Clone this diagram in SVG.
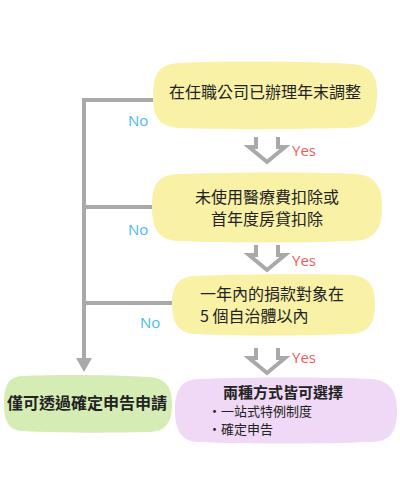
<svg xmlns="http://www.w3.org/2000/svg" width="400" height="500" viewBox="0 0 400 500">
<style>
.t{font-family:"Noto Sans CJK TC","Noto Sans CJK JP",sans-serif;fill:#222;}
.yes{font-family:"Open Sans","Noto Sans",sans-serif;font-size:15px;fill:#f25c5c;}
.no{font-family:"Open Sans","Noto Sans",sans-serif;font-size:15px;fill:#4ab8f5;}
.ln{stroke:#a9a9a9;stroke-width:4;fill:none;}
.chev{stroke:#a9a9a9;stroke-width:4;fill:none;stroke-linejoin:miter;}
</style>
<rect width="400" height="500" fill="#fff"/>
<g id="connectors">
<path class="ln" d="M153,100 H84 V360"/>
<path class="ln" d="M152,207 H84"/>
<path class="ln" d="M172,303 H84"/>
<polygon points="76,358 92,358 84,372" fill="#a9a9a9"/>
<path class="chev" d="M256,137 V147 H249 L267,162 L285,147 H278 V137"/>
<path class="chev" d="M256,245 V255 H249 L267,270 L285,255 H278 V245"/>
<path class="chev" d="M256,348 V358 H249 L267,373 L285,358 H278 V348"/>
<text class="yes" x="292" y="156">Yes</text>
<text class="yes" x="292" y="266">Yes</text>
<text class="yes" x="292" y="363">Yes</text>
<text class="no" x="128" y="126">No</text>
<text class="no" x="128" y="235">No</text>
<text class="no" x="140" y="328">No</text>
</g>
<g id="n1">
<path d="M180,63 C240,60 320,62 352,64 C374,66 378,80 377,96 C376,116 372,128 345,128 C300,129 230,130 180,128 C160,127 153,118 153,96 C153,72 160,64 180,63 Z" fill="#f8f1a6"/>
<text class="t" x="265" y="98" font-size="16" text-anchor="middle">在任職公司已辦理年末調整</text>
</g>
<g id="n2">
<path d="M178,174 C240,172 320,172 356,174 C378,176 382,190 382,207 C382,228 376,241 350,241 C300,243 230,243 178,241 C158,240 152,228 152,207 C152,184 158,175 178,174 Z" fill="#f8f1a6"/>
<text class="t" x="267" y="203" font-size="16" text-anchor="middle">未使用醫療費扣除或</text>
<text class="t" x="267" y="225" font-size="16" text-anchor="middle">首年度房貸扣除</text>
</g>
<g id="n3">
<path d="M195,276 C250,274 320,274 352,275 C372,277 375,290 375,304 C375,322 370,334 348,334 C300,336 240,336 195,334 C178,333 172,322 172,304 C172,286 178,277 195,276 Z" fill="#f8f1a6"/>
<text class="t" x="200" y="300" font-size="16">一年內的捐款對象在</text>
<text class="t" x="200" y="322" font-size="16">5 個自治體以內</text>
</g>
<g id="n4">
<path d="M22,376 C60,374 120,375 150,377 C168,379 172,390 172,404 C172,422 166,432 148,432 C110,433 60,433 22,431 C8,430 4,420 4,404 C4,386 8,377 22,376 Z" fill="#d5ecb4"/>
<text class="t" x="87" y="409" font-size="16" font-weight="bold" text-anchor="middle">僅可透過確定申告申請</text>
</g>
<g id="n5">
<path d="M198,379 C250,377 330,377 372,379 C392,381 397,394 397,410 C397,430 392,442 370,442 C320,444 250,444 198,442 C181,441 175,430 175,410 C175,390 181,380 198,379 Z" fill="#f0d9f6"/>
<text class="t" x="283" y="398" font-size="15" font-weight="bold" text-anchor="middle">兩種方式皆可選擇</text>
<text class="t" x="208" y="416" font-size="13">・一站式特例制度</text>
<text class="t" x="208" y="434" font-size="13">・確定申告</text>
</g>
</svg>
